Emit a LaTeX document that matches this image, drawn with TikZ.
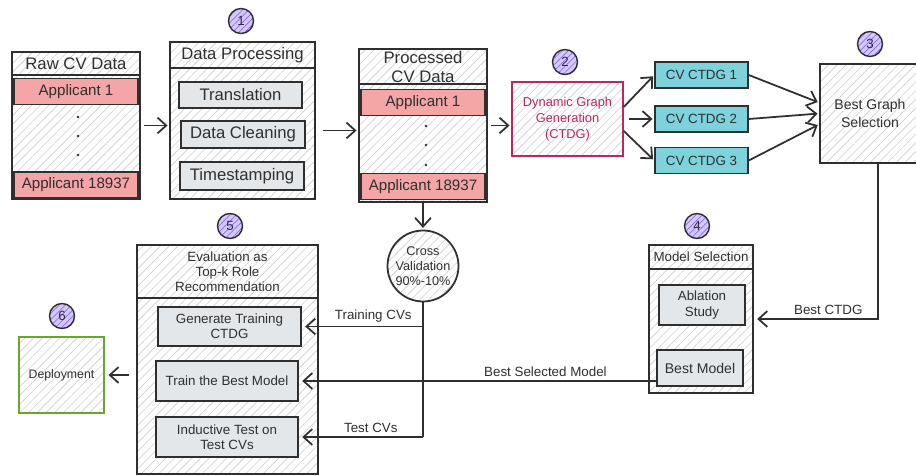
\documentclass[tikz,border=0pt]{standalone}
\usepackage{fontspec}
\setmainfont{Liberation Sans}
\usepackage{tikz}
\usepackage{xcolor}
\usetikzlibrary{arrows.meta,patterns.meta,calc}
\definecolor{boxline}{HTML}{2F2F2F}
\definecolor{hatchgray}{HTML}{CFCFCF}
\definecolor{innergray}{HTML}{E4E7EA}
\definecolor{applred}{HTML}{F4A5A5}
\definecolor{ctdgcyan}{HTML}{7ED2DB}
\definecolor{graphpink}{HTML}{C2255C}
\definecolor{deploygreen}{HTML}{6AA62F}
\definecolor{badgeviolet}{HTML}{D6C8FF}
\definecolor{badgehatch}{HTML}{8A6CF0}
\newcommand{\bigtxt}{\fontsize{9.5}{10.8}\selectfont}
\newcommand{\smalltxt}{\fontsize{7.6}{8.6}\selectfont}
\tikzstyle{hatch}=[
    preaction={fill=white},
    preaction={pattern={Lines[angle=45,distance=3.5pt,line width=0.35pt]},pattern color=hatchgray}
    ]
\tikzstyle{bigbox} =[
    draw=boxline,
    hatch,
    line width=0.8pt,
    rectangle,
    inner sep=0pt
    ]
\tikzstyle{innerbox} =[
    draw=boxline,
    fill=innergray,
    line width=0.8pt,
    rectangle,
    align=center,
    text=boxline,
    inner sep=1pt
    ]
\tikzstyle{applbar}=[draw=boxline, fill=applred, line width=0.8pt, rectangle, text=boxline, font=\smalltxt\fontsize{8.6}{10}\selectfont]
\tikzstyle{ctdgbox}=[draw=boxline, fill=ctdgcyan, line width=0.8pt, rectangle, text=boxline, font=\smalltxt,
    minimum width=1.86cm, minimum height=0.52cm]
\tikzstyle{badge}=[circle, draw=boxline, line width=0.8pt, minimum size=0.5cm, inner sep=0pt,
    font=\smalltxt, text=boxline,
    preaction={fill=badgeviolet},
    preaction={pattern={Lines[angle=45,distance=2.5pt,line width=0.4pt]},pattern color=badgehatch}]
\tikzstyle{titletext}=[align=center, text=boxline, inner sep=0pt]
\tikzstyle{edgetext}=[text=boxline, font=\smalltxt, inner sep=2pt]
\tikzstyle{headline}=[draw=boxline, line width=1pt]
\tikzstyle{arr}=[-{Straight Barb[length=5pt,width=9pt]}, line width=1pt, draw=boxline]
\tikzstyle{plainline}=[line width=1pt, draw=boxline]

\begin{document}
\begin{tikzpicture}[x=0.02cm, y=-0.02cm]
\useasboundingbox (0,0) rectangle (916,476);

% raw data
\node[bigbox, minimum width=2.56cm, minimum height=2.94cm] (raw) at (76,125.5) {};
\draw[headline] ([yshift=-0.48cm]raw.north west) -- ([yshift=-0.48cm]raw.north east);
\node[titletext, font=\bigtxt] (rawtitle) at ([yshift=-0.24cm]raw.north) {Raw CV Data};
\node[applbar, minimum width=2.48cm, minimum height=0.46cm] (rawfirst) at (76,91.5) {Applicant 1};
\node[applbar, minimum width=2.48cm, minimum height=0.48cm] (rawlast) at (76,185) {Applicant 18937};
\foreach \yy in {117,136,155}
    \fill[boxline] (78,\yy) circle (0.8pt);

% processing
\node[bigbox, minimum width=2.9cm, minimum height=3.14cm] (dp) at (242.5,120.5) {};
\draw[headline] ([yshift=-0.54cm]dp.north west) -- ([yshift=-0.54cm]dp.north east);
\node[titletext, font=\bigtxt] (dptitle) at ([yshift=-0.27cm]dp.north) {Data Processing};
\node[innerbox, font=\bigtxt, minimum width=2.46cm, minimum height=0.52cm] (trans) at (240.5,95) {Translation};
\node[innerbox, font=\bigtxt, minimum width=2.48cm, minimum height=0.54cm] (clean) at (243,134.5) {Data Cleaning};
\node[innerbox, font=\bigtxt, minimum width=2.48cm, minimum height=0.56cm] (stamp) at (242,176) {Timestamping};
\node[badge] (one) at (241,21) {1};

% processed data
\node[bigbox, minimum width=2.56cm, minimum height=3.06cm] (proc) at (423,125.5) {};
\draw[headline] ([yshift=-0.72cm]proc.north west) -- ([yshift=-0.72cm]proc.north east);
\node[titletext, font=\bigtxt] (proctitle) at ([yshift=-0.37cm]proc.north) {Processed\\CV Data};
\node[applbar, minimum width=2.48cm, minimum height=0.46cm] (procfirst) at (423,102.5) {Applicant 1};
\node[applbar, minimum width=2.48cm, minimum height=0.5cm] (proclast) at (423,186.5) {Applicant 18937};
\foreach \yy in {126,145,165}
    \fill[boxline] (426,\yy) circle (0.8pt);

% graph generation
\node[bigbox, draw=graphpink, minimum width=2.22cm, minimum height=1.48cm, align=center,
    text=graphpink, font=\smalltxt\fontsize{7.3}{9}\selectfont] (dgg) at (567.5,119) {Dynamic Graph\\Generation\\(CTDG)};
\node[badge] (two) at (565,62) {2};
\node[ctdgbox] (ctdga) at (701.5,75) {CV CTDG 1};
\node[ctdgbox] (ctdgb) at (701.5,119) {CV CTDG 2};
\node[ctdgbox] (ctdgc) at (701.5,160.5) {CV CTDG 3};
\node[bigbox, minimum width=2.0cm, minimum height=1.98cm, align=center, text=boxline,
    font=\smalltxt\fontsize{8}{10}\selectfont] (bgs) at (870,113.5) {Best Graph\\Selection};
\node[badge] (three) at (870,44) {3};

% model selection
\node[bigbox, minimum width=2.08cm, minimum height=2.96cm] (ms) at (701,319) {};
\draw[headline] ([yshift=-0.5cm]ms.north west) -- ([yshift=-0.5cm]ms.north east);
\node[titletext, font=\smalltxt] (mstitle) at ([yshift=-0.25cm]ms.north) {Model Selection};
\node[innerbox, font=\smalltxt, minimum width=1.72cm, minimum height=0.8cm] (abl) at (702,305) {Ablation\\Study};
\node[innerbox, font=\smalltxt\fontsize{8}{10}\selectfont, minimum width=1.72cm, minimum height=0.72cm] (bm) at (700,368) {Best Model};
\node[badge] (four) at (697,226) {4};

% cross validation
\node[circle, draw=boxline, hatch, line width=1pt, minimum size=1.42cm, inner sep=0pt,
    align=center, text=boxline, font=\smalltxt\fontsize{7.2}{8.4}\selectfont] (cv) at (423,266) {Cross\\Validation\\90\%-10\%};

% evaluation
\node[bigbox, minimum width=3.62cm, minimum height=4.58cm] (ev) at (227.5,359.5) {};
\draw[headline] ([yshift=-1.08cm]ev.north west) -- ([yshift=-1.08cm]ev.north east);
\node[titletext, font=\smalltxt\fontsize{7.6}{8.5}\selectfont] (evtitle) at ([yshift=-0.54cm]ev.north) {Evaluation as\\Top-k Role\\Recommendation};
\node[innerbox, font=\smalltxt, minimum width=2.86cm, minimum height=0.78cm] (gen) at (229.5,326.5) {Generate Training\\CTDG};
\node[innerbox, font=\smalltxt, minimum width=2.84cm, minimum height=0.8cm] (train) at (227,381) {Train the Best Model};
\node[innerbox, font=\smalltxt, minimum width=2.84cm, minimum height=0.8cm] (ind) at (227,437) {Inductive Test on\\Test CVs};
\node[badge] (five) at (230,226) {5};

% deployment
\node[bigbox, draw=deploygreen, line width=1.1pt, minimum width=1.7cm, minimum height=1.52cm,
    text=boxline, font=\smalltxt\fontsize{7}{8}\selectfont] (dep) at (61.5,375) {Deployment};
\node[badge] (six) at (62,316) {6};

% arrows
\draw[arr, shorten <=2pt, shorten >=1pt] (raw.east) -- (raw.east -| dp.west);
\draw[arr, shorten <=4pt, shorten >=1pt] ([yshift=-0.2cm]dp.east) -- ([yshift=-0.2cm]dp.east -| proc.west);
\draw[arr, shorten <=2pt, shorten >=1pt] (proc.east) -- (proc.east -| dgg.west);
\draw[arr, shorten >=1pt] (dgg.12) -- (ctdga.west);
\draw[arr, shorten <=3pt, shorten >=1pt] (dgg.east) -- (ctdgb.west);
\draw[arr, shorten >=1pt] (dgg.-12) -- (ctdgc.west);
\draw[arr, shorten >=1pt] (ctdga.east) -- (bgs.168);
\draw[arr, shorten >=1pt] (ctdgb.east) -- (bgs.west);
\draw[arr, shorten >=1pt] (ctdgc.east) -- (bgs.192);
\draw[arr, shorten >=2pt] ([xshift=0.16cm]bgs.south) |- (ms.east)
    node[edgetext, above, pos=0.7] (bestctdg) {Best CTDG};
\draw[arr, shorten >=1pt] (proc.south) -- (cv.north);
\draw[plainline] (cv.south) -- (cv.south |- ind.east);
\draw[arr, shorten >=2pt] (cv.south |- gen.east) -- (gen.east)
    node[edgetext, above, pos=0.41] (traincvs) {Training CVs};
\draw[arr, shorten >=2pt] (cv.south |- ind.east) -- (ind.east)
    node[edgetext, above, pos=0.42] (testcvs) {Test CVs};
\draw[arr, shorten >=2pt] (bm.west |- train.east) -- (train.east)
    node[edgetext, above, pos=0.31] (bestsel) {Best Selected Model};
\draw[arr, shorten <=4pt, shorten >=2pt] (ev.west |- dep.east) -- (dep.east);
\end{tikzpicture}
\end{document}
